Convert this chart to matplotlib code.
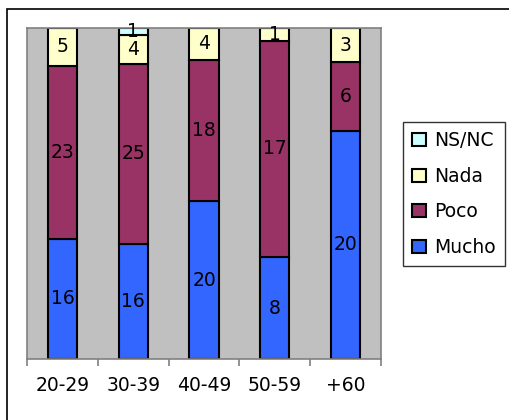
import numpy as np
import matplotlib.pyplot as plt
from matplotlib.patches import Rectangle

plt.rcParams['font.family'] = ['DejaVu Sans']

# Datos
grupos = ['20-29', '30-39', '40-49', '50-59', '+60']
mucho = np.array([16, 16, 20, 8, 20])
poco = np.array([23, 25, 18, 17, 6])
nada = np.array([5, 4, 4, 1, 3])
nsnc = np.array([0, 1, 0, 0, 0])

series = [('Mucho', mucho, '#3366FF'),
          ('Poco', poco, '#993366'),
          ('Nada', nada, '#FFFFCC'),
          ('NS/NC', nsnc, '#CCFFFF')]

total = mucho + poco + nada + nsnc

fig = plt.figure(figsize=(5.09, 4.20), dpi=100)
# marco del grafico
fig.patches.append(Rectangle((7 / 509, -0.1), 1.2, 1 - 9 / 420 + 0.1,
                             transform=fig.transFigure, fill=False,
                             edgecolor='black', linewidth=1.2))

ax = fig.add_axes([27 / 509, 61 / 420, 354 / 509, 331 / 420])
ax.set_facecolor('#C0C0C0')
for s in ax.spines.values():
    s.set_color('#808080')
    s.set_linewidth(1.2)

x = np.arange(len(grupos))
base = np.zeros(len(grupos))
handles = []
for nombre, valores, color in series:
    frac = valores / total
    bars = ax.bar(x, frac, 0.41, bottom=base, color=color,
                  edgecolor='black', linewidth=1.5, label=nombre)
    handles.append(bars)
    for i in range(len(grupos)):
        if valores[i] > 0:
            ax.text(x[i], base[i] + frac[i] / 2, str(valores[i]),
                    ha='center', va='center', fontsize=13.5, color='black')
    base += frac

ax.set_xlim(-0.5, len(grupos) - 0.5)
ax.set_ylim(0, 1)
ax.set_yticks([])
ax.set_xticks(x)
ax.set_xticklabels(grupos, fontsize=13.5)
ax.tick_params(axis='x', which='major', length=0, pad=12)
ax.set_xticks(np.arange(-0.5, len(grupos)), minor=True)
ax.tick_params(axis='x', which='minor', length=5, color='#808080', width=1.2)

leg = fig.legend(handles[::-1], [s[0] for s in series[::-1]],
                 loc='upper left', bbox_to_anchor=(403 / 509, 1 - 122 / 420),
                 fontsize=13.5, frameon=True, fancybox=False, edgecolor='black',
                 handlelength=0.7, handleheight=0.7, handletextpad=0.45,
                 borderpad=0.5, labelspacing=0.88, borderaxespad=0)
leg.get_frame().set_linewidth(1.0)

fig.savefig('out.png', dpi=100)
